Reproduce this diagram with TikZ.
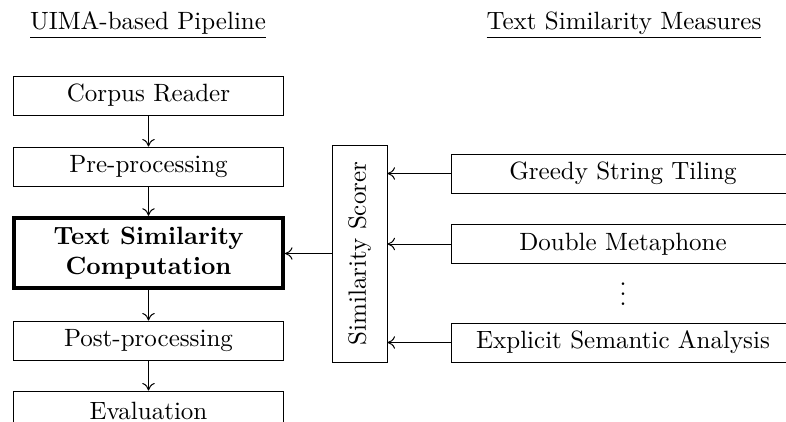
\documentclass[tikz,border=0pt]{standalone}
\usetikzlibrary{arrows.meta}
\begin{document}
\begin{tikzpicture}[x=0.4pt,y=-0.4pt,
  stage/.style={draw, line width=0.4pt, minimum width=108pt, minimum height=15.6pt, inner sep=0pt},
  keystage/.style={draw, line width=1.6pt, minimum width=107.6pt, minimum height=28.2pt, inner sep=0pt, font=\bfseries, align=center},
  measure/.style={draw, line width=0.4pt, minimum width=137pt, minimum height=15.6pt, inner sep=0pt},
  scorer/.style={draw, line width=0.4pt, minimum width=86.8pt, minimum height=22pt, inner sep=0pt, rotate=90},
  flow/.style={-{To[length=3pt,width=5pt]}, line width=0.4pt},
  heading/.style={anchor=base}]
\clip (0,0) rectangle (786,421);

% column headings
\node[heading] (hleft) at (148,29) {\underline{UIMA-based Pipeline}};
\node[heading] (hright) at (624,29) {\underline{Text Similarity Measures}};

% pipeline stages
\node[stage] (reader) at (148.5,95.5) {Corpus Reader};
\node[stage] (pre) at (148.5,166.5) {Pre-processing};
\node[keystage] (tsc) at (148.5,253) {Text Similarity\\Computation};
\node[stage] (post) at (148.5,340.5) {Post-processing};
\node[stage] (eval) at (148.5,410.5) {Evaluation};

% scorer
\node[scorer] (sc) at (359.5,253.5) {Similarity Scorer};

% measures
\node[measure] (gst) at (623,173.5) {Greedy String Tiling};
\node[measure] (dm) at (623,244) {Double Metaphone};
\node (dots) at (623,287) {$\vdots$};
\node[measure] (esa) at (623,342.5) {Explicit Semantic Analysis};

% connectors
\draw[flow] (reader) -- (pre);
\draw[flow] (pre) -- (tsc);
\draw[flow] (tsc) -- (post);
\draw[flow] (post) -- (eval);
\draw[flow] (sc.north) -- (tsc.east |- sc.north);
\draw[flow] (gst.west) -- (sc.south |- gst.west);
\draw[flow] (dm.west) -- (sc.south |- dm.west);
\draw[flow] (esa.west) -- (sc.south |- esa.west);
\end{tikzpicture}
\end{document}
